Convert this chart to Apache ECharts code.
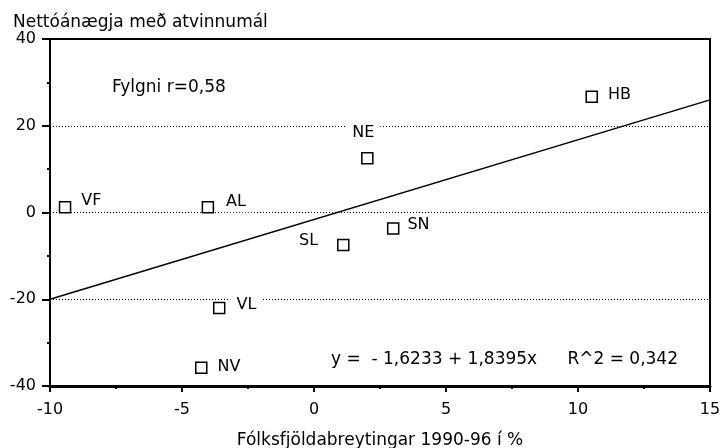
<!DOCTYPE html>
<html><head><meta charset="utf-8">
<script src="https://cdn.jsdelivr.net/npm/echarts@6/dist/echarts.min.js"></script>
<style>html,body{margin:0;padding:0;background:#fff}#c{width:721px;height:448px}</style>
</head><body><div id="c"></div>
<script>
// ---- data ----
const regions = ['VF', 'AL', 'SL', 'NE', 'SN', 'HB', 'VL', 'NV'];
const popChange = [-9.43, -4.02, 1.11, 2.02, 3.0, 10.52, -3.59, -4.27];
const netSatisfaction = [1.2, 1.2, -7.5, 12.5, -3.7, 26.7, -22.0, -35.8];
const xRange = [-10, 15];
const yRange = [-40, 40];
const xStep = 5;
const yStep = 20;
const regIntercept = -1.6233;
const regSlope = 1.8395;
const rSquared = 0.342;
const correlation = 0.58;
const yTitle = 'Nettóánægja með atvinnumál';
const xTitle = 'Fólksfjöldabreytingar 1990-96 í %';

// ---- styling ----
const FONT = 'DejaVu Sans';
const labelPlacement = {
  VF: {position: 'right', distance: 4, offset: [0, -6]},
  AL: {position: 'right', distance: 6, offset: [0, -5]},
  SL: {position: 'left', distance: 13, offset: [0, -4]},
  NE: {position: 'top', distance: 9, offset: [-4, 0]},
  SN: {position: 'right', distance: 2, offset: [0, -4]},
  HB: {position: 'right', distance: 4, offset: [0, -2]},
  VL: {position: 'right', distance: 5, offset: [0, -3]},
  NV: {position: 'right', distance: 4, offset: [0, -1]}
};
const fmt = v => String(v).replace('.', ',');

const points = regions.map((n, i) => ({
  name: n,
  value: [popChange[i], netSatisfaction[i]],
  label: Object.assign({show: true, formatter: n}, labelPlacement[n])
}));
const regLine = xRange.map(x => [x, regIntercept + regSlope * x]);
const eqLeft = 'y =  - ' + fmt(Math.abs(regIntercept)) + ' + ' + fmt(regSlope) + 'x';
const eqRight = 'R^2 = ' + fmt(rSquared);

const chart = echarts.init(document.getElementById('c'));
chart.setOption({
  animation: false,
  backgroundColor: '#fff',
  textStyle: {fontFamily: FONT, color: '#000'},
  title: {
    text: yTitle, left: 13, top: 14, padding: 0,
    textStyle: {fontFamily: FONT, fontSize: 17, fontWeight: 'normal', color: '#000'}
  },
  grid: {left: 50, right: 11, top: 39, bottom: 62, outerBoundsMode: 'none', containLabel: false,
    show: true, borderColor: '#000', borderWidth: 2, backgroundColor: 'transparent'},
  xAxis: {
    type: 'value', min: xRange[0], max: xRange[1], interval: xStep,
    name: xTitle, nameLocation: 'middle', nameGap: 46,
    nameTextStyle: {fontFamily: FONT, fontSize: 17, color: '#000'},
    axisLine: {show: true, onZero: false, lineStyle: {color: '#000', width: 3}},
    axisTick: {show: true, length: 6, lineStyle: {color: '#000', width: 2}},
    minorTick: {show: true, splitNumber: 2, length: 3, lineStyle: {color: '#000', width: 2}},
    axisLabel: {fontFamily: FONT, fontSize: 16, color: '#000', margin: 16},
    splitLine: {show: false}
  },
  yAxis: {
    type: 'value', min: yRange[0], max: yRange[1], interval: yStep,
    axisLine: {show: true, onZero: false, lineStyle: {color: '#000', width: 2}},
    axisTick: {show: true, length: 8, lineStyle: {color: '#000', width: 2}},
    minorTick: {show: true, splitNumber: 2, length: 3, lineStyle: {color: '#000', width: 2}},
    axisLabel: {fontFamily: FONT, fontSize: 16, color: '#000', margin: 14},
    splitLine: {show: true, lineStyle: {color: '#000', width: 1, type: [1, 2]}}
  },
  graphic: [
    {type: 'text', left: 112, top: 79, style: {text: 'Fylgni r=' + fmt(correlation), font: '17px "DejaVu Sans"', fill: '#000'}},
    {type: 'text', left: 331, top: 351, style: {text: eqLeft, font: '17px "DejaVu Sans"', fill: '#000'}},
    {type: 'text', right: 43, top: 351, style: {text: eqRight, font: '17px "DejaVu Sans"', fill: '#000'}}
  ],
  series: [
    {
      type: 'line', data: regLine, symbol: 'none', silent: true, z: 2,
      lineStyle: {color: '#000', width: 1.5}
    },
    {
      type: 'scatter', data: points, symbol: 'rect', symbolSize: 11, z: 3,
      itemStyle: {color: '#fff', borderColor: '#000', borderWidth: 1.5, opacity: 1},
      label: {
        fontFamily: FONT, fontSize: 16, color: '#000',
        backgroundColor: '#fff', padding: [2, 6]
      }
    }
  ]
});
</script>
</body></html>
